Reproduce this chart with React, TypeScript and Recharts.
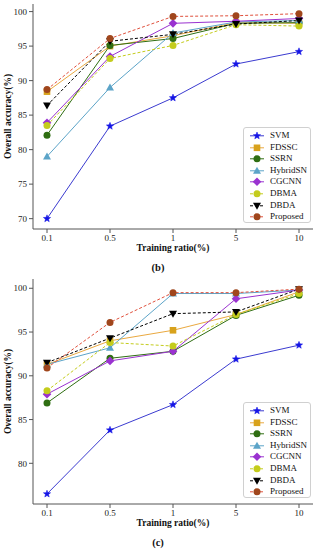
import React from 'react';
import { LineChart, Line, XAxis, YAxis } from 'recharts';

const CATEGORIES = ['0.1', '0.5', '1', '5', '10'];
const SERIES_NAMES = ['SVM', 'FDSSC', 'SSRN', 'HybridSN', 'CGCNN', 'DBMA', 'DBDA', 'Proposed'];

// Panel (b)
const B_SVM = [70.0, 83.4, 87.5, 92.4, 94.2];
const B_FDSSC = [88.4, 95.0, 96.5, 98.4, 98.3];
const B_SSRN = [82.1, 95.1, 96.1, 98.3, 98.4];
const B_HYBRIDSN = [79.0, 89.0, 96.9, 98.5, 98.7];
const B_CGCNN = [83.9, 93.5, 98.3, 98.6, 99.0];
const B_DBMA = [83.5, 93.2, 95.1, 98.1, 97.9];
const B_DBDA = [86.4, 95.7, 96.7, 98.2, 98.7];
const B_PROPOSED = [88.7, 96.1, 99.3, 99.4, 99.7];
const B_TICKS = [70, 75, 80, 85, 90, 95, 100];

// Panel (c)
const C_SVM = [76.5, 83.8, 86.7, 91.9, 93.5];
const C_FDSSC = [91.3, 94.0, 95.2, 97.0, 99.6];
const C_SSRN = [86.9, 92.0, 92.8, 96.9, 99.2];
const C_HYBRIDSN = [91.3, 93.2, 99.4, 99.4, 99.8];
const C_CGCNN = [87.9, 91.7, 92.8, 98.8, 99.8];
const C_DBMA = [88.3, 93.8, 93.4, 97.0, 99.4];
const C_DBDA = [91.5, 94.3, 97.1, 97.3, 99.9];
const C_PROPOSED = [90.9, 96.1, 99.5, 99.5, 99.9];
const C_TICKS = [80, 85, 90, 95, 100];

const FONT = '"Liberation Serif", "DejaVu Serif", serif';

type Style = { name: string; line: string; marker: string; dash?: string; shape: string };
const STYLES: Style[] = [
  { name: 'SVM', line: '#3b3bd0', marker: '#1414e6', shape: 'star' },
  { name: 'FDSSC', line: '#eaa940', marker: '#d8a21c', shape: 'square' },
  { name: 'SSRN', line: '#2f6e12', marker: '#2f6e12', shape: 'circle' },
  { name: 'HybridSN', line: '#5ca4c8', marker: '#5ca4c8', shape: 'triangle' },
  { name: 'CGCNN', line: '#9a32d0', marker: '#9a32d0', shape: 'diamond' },
  { name: 'DBMA', line: '#c4cc1c', marker: '#c4cc1c', shape: 'circle', dash: '3 2' },
  { name: 'DBDA', line: '#000000', marker: '#000000', shape: 'tridown', dash: '3 2' },
  { name: 'Proposed', line: '#e0503c', marker: '#a0461c', shape: 'circle', dash: '3 2' },
];

function buildRows(series: number[][]) {
  return CATEGORIES.map((c, i) => {
    const row: any = { ratio: c };
    SERIES_NAMES.forEach((n, k) => { row[n] = series[k][i]; });
    return row;
  });
}

const DATA_B = buildRows([B_SVM, B_FDSSC, B_SSRN, B_HYBRIDSN, B_CGCNN, B_DBMA, B_DBDA, B_PROPOSED]);
const DATA_C = buildRows([C_SVM, C_FDSSC, C_SSRN, C_HYBRIDSN, C_CGCNN, C_DBMA, C_DBDA, C_PROPOSED]);

function Marker({ shape, cx, cy, color }: { shape: string; cx: number; cy: number; color: string }) {
  if (cx == null || cy == null || isNaN(cx) || isNaN(cy)) return null;
  switch (shape) {
    case 'star': {
      const pts: string[] = [];
      for (let i = 0; i < 10; i++) {
        const r = i % 2 === 0 ? 3.8 : 1.6;
        const a = -Math.PI / 2 + (i * Math.PI) / 5;
        pts.push(`${cx + r * Math.cos(a)},${cy + r * Math.sin(a)}`);
      }
      return <polygon points={pts.join(' ')} fill={color} stroke={color} strokeWidth={0.5} />;
    }
    case 'square':
      return <rect x={cx - 3.3} y={cy - 3.3} width={6.6} height={6.6} fill={color} />;
    case 'triangle':
      return <polygon points={`${cx},${cy - 4} ${cx - 4},${cy + 3} ${cx + 4},${cy + 3}`} fill={color} />;
    case 'tridown':
      return <polygon points={`${cx},${cy + 4} ${cx - 4},${cy - 3} ${cx + 4},${cy - 3}`} fill={color} />;
    case 'diamond':
      return <polygon points={`${cx},${cy - 4.3} ${cx + 4.3},${cy} ${cx},${cy + 4.3} ${cx - 4.3},${cy}`} fill={color} />;
    default:
      return <circle cx={cx} cy={cy} r={3.5} fill={color} />;
  }
}

function LegendBox() {
  return (
    <div
      style={{
        position: 'absolute',
        left: 243,
        top: 127,
        width: 68,
        height: 96,
        border: '1px solid #d0d0d0',
        borderRadius: 3,
        background: 'rgba(255,255,255,0.9)',
        boxSizing: 'border-box',
        paddingTop: 2,
      }}
    >
      {STYLES.map((s) => (
        <div key={s.name} style={{ display: 'flex', alignItems: 'center', height: 11.6 }}>
          <svg width={26} height={11.6} style={{ display: 'block', flex: 'none' }}>
            <line x1={6} x2={20} y1={5.8} y2={5.8} stroke={s.line} strokeWidth={1} strokeDasharray={s.dash} />
            <Marker shape={s.shape} cx={13} cy={5.8} color={s.marker} />
          </svg>
          <span style={{ fontFamily: FONT, fontSize: 9, color: '#111', lineHeight: '11.6px', whiteSpace: 'nowrap' }}>{s.name}</span>
        </div>
      ))}
    </div>
  );
}

function Panel({ data, domain, ticks, tag }: { data: any[]; domain: [number, number]; ticks: number[]; tag: string }) {
  const axisColor = '#555';
  const tickStyle = { fontFamily: FONT, fontSize: 9, fill: '#222' };
  return (
    <div style={{ position: 'relative', width: 316, height: 275 }}>
      <LineChart width={316} height={275} data={data} margin={{ top: 4, right: 3, bottom: 26, left: 0 }}>
        <XAxis
          dataKey="ratio"
          type="category"
          padding={{ left: 14, right: 14 }}
          tick={tickStyle}
          tickLine={{ stroke: axisColor }}
          tickSize={4}
          axisLine={{ stroke: axisColor }}
          height={20}
          interval={0}
        />
        <XAxis
          xAxisId="top"
          dataKey="ratio"
          orientation="top"
          tick={false}
          tickLine={false}
          axisLine={{ stroke: axisColor }}
          height={0}
          padding={{ left: 14, right: 14 }}
        />
        <YAxis
          type="number"
          domain={domain}
          ticks={ticks}
          allowDataOverflow
          width={33}
          tick={tickStyle}
          tickLine={{ stroke: axisColor }}
          tickSize={4}
          axisLine={{ stroke: axisColor }}
          interval={0}
        />
        <YAxis
          yAxisId="right"
          orientation="right"
          type="number"
          domain={domain}
          tick={false}
          tickLine={false}
          axisLine={{ stroke: axisColor }}
          width={0}
        />
        {STYLES.map((s) => (
          <Line
            key={s.name}
            dataKey={s.name}
            stroke={s.line}
            strokeWidth={1}
            strokeDasharray={s.dash}
            isAnimationActive={false}
            dot={(p: any) => <Marker key={`${s.name}-${p.index}`} shape={s.shape} cx={p.cx} cy={p.cy} color={s.marker} />}
            activeDot={false}
          />
        ))}
      </LineChart>
      <LegendBox />
      <svg width={316} height={275} style={{ position: 'absolute', left: 0, top: 0, pointerEvents: 'none' }}>
        <text
          x={0}
          y={0}
          transform="translate(11,116.5) rotate(-90)"
          textAnchor="middle"
          style={{ fontFamily: FONT, fontSize: 9.5, fontWeight: 'bold', fill: '#111' }}
        >
          Overall accuracy(%)
        </text>
        <text
          x={173}
          y={251}
          textAnchor="middle"
          style={{ fontFamily: FONT, fontSize: 9.5, fontWeight: 'bold', fill: '#111' }}
        >
          Training ratio(%)
        </text>
        <text
          x={158}
          y={271}
          textAnchor="middle"
          style={{ fontFamily: FONT, fontSize: 10.5, fontWeight: 'bold', fill: '#111' }}
        >
          {tag}
        </text>
      </svg>
    </div>
  );
}

export default function App() {
  return (
    <div style={{ position: 'absolute', left: 0, top: 0, width: 316, height: 550, background: '#fff' }}>
      <Panel data={DATA_B} domain={[68.5, 101.1]} ticks={B_TICKS} tag="(b)" />
      <Panel data={DATA_C} domain={[75.35, 101.06]} ticks={C_TICKS} tag="(c)" />
    </div>
  );
}
